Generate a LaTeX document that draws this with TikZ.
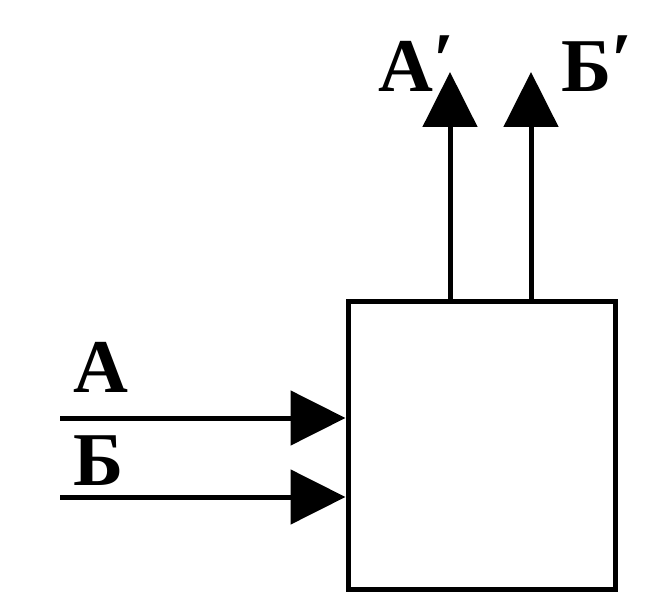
\documentclass[tikz,border=0pt]{standalone}
\usepackage{fontspec}
\setmainfont{Liberation Serif}
\usetikzlibrary{arrows.meta}
\newcommand{\myprime}{\raisebox{6pt}{′}}
\begin{document}
\begin{tikzpicture}[x=1pt,y=-1pt,
  lbl/.style={inner sep=0pt,font=\fontsize{76}{80}\selectfont\bfseries},
  wire/.style={line width=5pt,-{Triangle[length=55pt,width=54pt]}},
  blk/.style={draw,line width=5pt,minimum width=267pt,minimum height=288pt,inner sep=0pt}]
\useasboundingbox (0,0) rectangle (666,596);
\node[blk] (box) at (481.5,445) {};
\coordinate (ina) at (60,418);
\coordinate (inb) at (60,497);
\coordinate (outa) at (450,72);
\coordinate (outb) at (531,72);
\draw[wire] (ina) -- (ina -| box.west);
\draw[wire] (inb) -- (inb -| box.west);
\draw[wire] (outa |- box.north) -- (outa);
\draw[wire] (outb |- box.north) -- (outb);
\node[lbl,anchor=base] (la) at (101,392) {А};
\node[lbl,anchor=base] (lb) at (99,485) {Б};
\node[lbl,anchor=base west] (lao) at (378,92) {А\myprime};
\node[lbl,anchor=base west] (lbo) at (561,92) {Б\myprime};
\end{tikzpicture}
\end{document}
